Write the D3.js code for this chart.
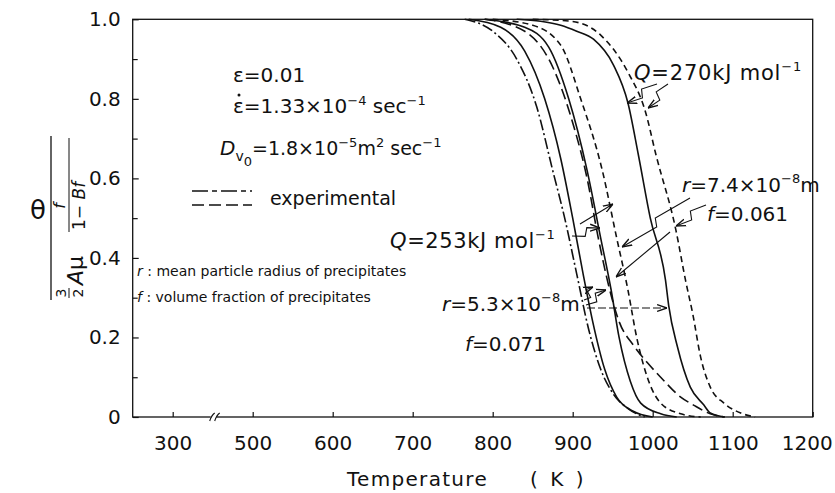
<!DOCTYPE html>
<html><head><meta charset="utf-8">
<script src="https://cdn.jsdelivr.net/npm/d3@7"></script>
<style>
body{margin:0;background:#fff;}
svg{display:block;}
text{font-family:"DejaVu Sans",Arial,sans-serif;fill:#111;}
</style>
</head><body>
<svg id="chart" width="835" height="493"></svg>
<script>
// ---------- data ----------
const xTickValues = [300, 500, 600, 700, 800, 900, 1000, 1100, 1200];
const yMajorTicks = [0, 0.2, 0.4, 0.6, 0.8, 1.0];
const yMinorTicks = [0.1, 0.3, 0.5, 0.7, 0.9];

// experimental (dash-dot)
const expDashDotT = [765, 800, 830, 855, 875, 890, 905, 920, 935, 950, 970, 990];
const expDashDotV = [1.0, 0.97, 0.9, 0.78, 0.62, 0.5, 0.36, 0.22, 0.12, 0.06, 0.02, 0.0];
// experimental (long dash)
const expLongDashT = [790, 840, 875, 900, 918, 932, 945, 958, 976, 994, 1010, 1035, 1051, 1072, 1090];
const expLongDashV = [1.0, 0.97, 0.88, 0.74, 0.6, 0.45, 0.33, 0.24, 0.18, 0.135, 0.1, 0.05, 0.03, 0.008, 0.0];
// calculated, solid, left
const calcSolidAT = [770, 810, 840, 865, 885, 900, 913, 925, 940, 955, 975, 1000];
const calcSolidAV = [1.0, 0.98, 0.92, 0.8, 0.65, 0.5, 0.36, 0.24, 0.12, 0.05, 0.015, 0.0];
// calculated, solid, Q=253
const calcSolidBT = [790, 840, 870, 895, 918, 935, 948, 958, 972, 985, 1010, 1030];
const calcSolidBV = [1.0, 0.98, 0.93, 0.8, 0.62, 0.45, 0.32, 0.2, 0.09, 0.035, 0.008, 0.0];
// calculated, dashed, Q=253
const calcDashBT = [800, 850, 885, 910, 937, 955, 969, 980, 995, 1010, 1035, 1060];
const calcDashBV = [1.0, 0.985, 0.935, 0.8, 0.62, 0.45, 0.32, 0.2, 0.09, 0.035, 0.008, 0.0];
// calculated, solid, Q=270
const calcSolidCT = [830, 860, 885, 905, 926, 951, 969, 982, 997, 1016, 1020, 1031, 1047, 1064, 1072, 1090];
const calcSolidCV = [1.0, 0.995, 0.985, 0.97, 0.95, 0.885, 0.79, 0.66, 0.5, 0.344, 0.28, 0.176, 0.075, 0.03, 0.01, 0.0];
// calculated, dashed, Q=270
const calcDashCT = [850, 898, 935, 969, 991, 1004, 1029, 1041, 1050, 1060, 1072, 1089, 1110, 1128];
const calcDashCV = [1.0, 0.995, 0.96, 0.867, 0.767, 0.66, 0.47, 0.344, 0.26, 0.15, 0.075, 0.035, 0.01, 0.0];

const zip = (t, v) => t.map((d, i) => [d, v[i]]);
const series = [
  {pts: zip(expDashDotT, expDashDotV), dash: "11,3,2,3"},
  {pts: zip(expLongDashT, expLongDashV), dash: "11,5"},
  {pts: zip(calcSolidAT, calcSolidAV), dash: null},
  {pts: zip(calcSolidBT, calcSolidBV), dash: null},
  {pts: zip(calcDashBT, calcDashBV), dash: "6,4"},
  {pts: zip(calcSolidCT, calcSolidCV), dash: null},
  {pts: zip(calcDashCT, calcDashCV), dash: "6,4"}
];

// ---------- scales ----------
const svg = d3.select("#chart");
const x = d3.scaleLinear().domain([250, 300, 500, 1200]).range([132.7, 172.7, 252.7, 812.7]);
const y = d3.scaleLinear().domain([0, 1]).range([417, 19.3]);

const defs = svg.append("defs");
defs.append("marker").attr("id", "arr").attr("viewBox", "0 0 10 10").attr("refX", 10).attr("refY", 5)
  .attr("markerWidth", 9).attr("markerHeight", 9).attr("orient", "auto-start-reverse")
  .append("path").attr("d", "M0,1.5 L10,5 L0,8.5").attr("fill", "none").attr("stroke", "#111").attr("stroke-width", 1.4);

// frame
svg.append("rect").attr("x", x(250)).attr("y", y(1)).attr("width", x(1200) - x(250)).attr("height", y(0) - y(1))
  .attr("fill", "none").attr("stroke", "#111").attr("stroke-width", 1.3);

// x axis
const xAxis = d3.axisBottom(x).tickValues(xTickValues).tickSize(-5).tickPadding(19).tickFormat(d3.format("d"));
const gx = svg.append("g").attr("transform", `translate(0,${y(0)})`).call(xAxis);
gx.select(".domain").remove();
gx.selectAll("text").attr("font-size", 20).attr("font-family", "DejaVu Sans, Arial, sans-serif")
  .attr("dx", d => d === 1200 ? -6 : 0);
gx.selectAll("line").attr("stroke", "#111").attr("stroke-width", 1.2);

// axis break marks
const bx = x(300) + 41;
svg.append("rect").attr("x", bx - 3).attr("y", y(0) - 1.5).attr("width", 6).attr("height", 3).attr("fill", "#fff");
svg.append("path").attr("d", `M${bx-4},${y(0)+4} q2,-6 5,-8 M${bx+1},${y(0)+4} q2,-6 5,-8`)
  .attr("fill", "none").attr("stroke", "#111").attr("stroke-width", 1.1);

// y axis
const yAxis = d3.axisLeft(y).tickValues(yMajorTicks).tickSize(-6).tickPadding(12)
  .tickFormat(d => d === 0 ? "0" : d.toFixed(1));
const gy = svg.append("g").attr("transform", `translate(${x(250)},0)`).call(yAxis);
gy.select(".domain").remove();
gy.selectAll("text").attr("font-size", 20).attr("font-family", "DejaVu Sans, Arial, sans-serif");
gy.selectAll("line").attr("stroke", "#111").attr("stroke-width", 1.2);
const gy2 = svg.append("g").attr("transform", `translate(${x(250)},0)`)
  .call(d3.axisLeft(y).tickValues(yMinorTicks).tickSize(-5).tickFormat(""));
gy2.select(".domain").remove();
gy2.selectAll("line").attr("stroke", "#111").attr("stroke-width", 1.2);

// curves
const line = d3.line().x(d => x(d[0])).y(d => y(d[1])).curve(d3.curveMonotoneX);
svg.append("g").selectAll("path").data(series).join("path")
  .attr("d", d => line(d.pts)).attr("fill", "none").attr("stroke", "#111")
  .attr("stroke-width", 1.6).attr("stroke-dasharray", d => d.dash);

// x title
svg.append("text").attr("x", 347).attr("y", 486).attr("font-size", 20).attr("letter-spacing", 1.3)
  .text("Temperature");
svg.append("text").attr("x", 530).attr("y", 486).attr("font-size", 20).attr("letter-spacing", 3)
  .text("( K )");

// y title (fraction)
svg.append("text").attr("x", 38).attr("y", 219).attr("text-anchor", "middle").attr("font-size", 26).text("θ");
const yt = svg.append("g").attr("transform", "translate(51,218) rotate(-90)");
yt.append("line").attr("x1", -82).attr("x2", 82).attr("y1", 0).attr("y2", 0).attr("stroke", "#111").attr("stroke-width", 1.3);
yt.append("text").attr("x", -75).attr("y", 15).attr("text-anchor", "middle").attr("font-size", 14).text("3");
yt.append("line").attr("x1", -80).attr("x2", -70).attr("y1", 18).attr("y2", 18).attr("stroke", "#111").attr("stroke-width", 1);
yt.append("text").attr("x", -75).attr("y", 32).attr("text-anchor", "middle").attr("font-size", 14).text("2");
const am = yt.append("text").attr("x", -67).attr("y", 32).attr("font-size", 22);
am.append("tspan").attr("font-style", "italic").text("A");
am.append("tspan").text("μ");
yt.append("text").attr("x", 12).attr("y", 14).attr("text-anchor", "middle").attr("font-size", 16).attr("font-style", "italic").text("f");
yt.append("line").attr("x1", -14).attr("x2", 80).attr("y1", 18).attr("y2", 18).attr("stroke", "#111").attr("stroke-width", 1);
const bf = yt.append("text").attr("x", -12).attr("y", 34).attr("font-size", 17);
bf.append("tspan").text("1− ");
bf.append("tspan").attr("font-style", "italic").text("Bf");

// ---------- annotations ----------
const ann = svg.append("g");
function rich(t, parts) {
  parts.forEach(p => {
    const ts = t.append("tspan").text(p.s);
    if (p.it) ts.attr("font-style", "italic");
    if (p.dy) ts.attr("dy", p.dy);
    if (p.fs) ts.attr("font-size", p.fs);
  });
}
let t;
t = ann.append("text").attr("x", 233).attr("y", 82).attr("font-size", 20);
rich(t, [{s: "ε=0.01"}]);
t = ann.append("text").attr("x", 233).attr("y", 113).attr("font-size", 20);
rich(t, [{s: "ε=1.33×10"}, {s: "−4", dy: -8, fs: 13}, {s: " sec", dy: 8}, {s: "−1", dy: -8, fs: 13}]);
ann.append("circle").attr("cx", 239).attr("cy", 95).attr("r", 1.5).attr("fill", "#111");
t = ann.append("text").attr("x", 220).attr("y", 155).attr("font-size", 20);
rich(t, [{s: "D", it: true}, {s: "v", dy: 6, fs: 14}, {s: "0", dy: 5, fs: 13}, {s: "=1.8×10", dy: -11, fs: 19},
        {s: "−5", dy: -8, fs: 13}, {s: "m", dy: 8, fs: 19}, {s: "2", dy: -8, fs: 13}, {s: " sec", dy: 8, fs: 19}, {s: "−1", dy: -8, fs: 13}]);

// legend
ann.append("line").attr("x1", 192).attr("x2", 252).attr("y1", 191).attr("y2", 191)
  .attr("stroke", "#111").attr("stroke-width", 1.6).attr("stroke-dasharray", "16,4,5,4");
ann.append("line").attr("x1", 192).attr("x2", 252).attr("y1", 205).attr("y2", 205)
  .attr("stroke", "#111").attr("stroke-width", 1.6).attr("stroke-dasharray", "12,5");
ann.append("text").attr("x", 270).attr("y", 205).attr("font-size", 19).text("experimental");

t = ann.append("text").attr("x", 390).attr("y", 248).attr("font-size", 21).attr("letter-spacing", 0.6);
rich(t, [{s: "Q", it: true}, {s: "=253kJ  mol"}, {s: "−1", dy: -9, fs: 13}]);

t = ann.append("text").attr("x", 137).attr("y", 276).attr("font-size", 14);
rich(t, [{s: "r", it: true}, {s: " : mean particle radius of precipitates"}]);
t = ann.append("text").attr("x", 137).attr("y", 302).attr("font-size", 14);
rich(t, [{s: "f", it: true}, {s: " : volume  fraction of precipitates"}]);

t = ann.append("text").attr("x", 442).attr("y", 311).attr("font-size", 20);
rich(t, [{s: "r", it: true}, {s: "=5.3×10"}, {s: "−8", dy: -9, fs: 13}, {s: "m", dy: 9}]);
t = ann.append("text").attr("x", 465).attr("y", 351).attr("font-size", 20);
rich(t, [{s: "f", it: true}, {s: "=0.071"}]);

t = ann.append("text").attr("x", 634).attr("y", 80).attr("font-size", 21).attr("letter-spacing", 0.8);
rich(t, [{s: "Q", it: true}, {s: "=270kJ  mol"}, {s: "−1", dy: -9, fs: 13}]);
t = ann.append("text").attr("x", 682).attr("y", 192).attr("font-size", 20);
rich(t, [{s: "r", it: true}, {s: "=7.4×10"}, {s: "−8", dy: -9, fs: 13}, {s: "m", dy: 9}]);
t = ann.append("text").attr("x", 707).attr("y", 221).attr("font-size", 20);
rich(t, [{s: "f", it: true}, {s: "=0.061"}]);

function zig(p0, p1) {
  const mx = (p0[0] + p1[0]) / 2, my = (p0[1] + p1[1]) / 2;
  const dx = p1[0] - p0[0], dy = p1[1] - p0[1], L = Math.hypot(dx, dy);
  const ux = dx / L, uy = dy / L, nx = -uy, ny = ux;
  const pts = [p0, [mx + nx * 4 - ux * 2, my + ny * 4 - uy * 2], [mx - nx * 4 + ux * 2, my - ny * 4 + uy * 2], p1];
  ann.append("path").attr("d", d3.line()(pts)).attr("fill", "none").attr("stroke", "#111")
    .attr("stroke-width", 1.1).attr("marker-end", "url(#arr)");
}
function straight(p0, p1, dashed) {
  ann.append("path").attr("d", d3.line()([p0, p1])).attr("fill", "none").attr("stroke", "#111")
    .attr("stroke-width", 1.1).attr("stroke-dasharray", dashed ? "8,3" : null).attr("marker-end", "url(#arr)");
}
zig([657, 84], [627, 103]);
zig([668, 84], [648, 108]);
zig([690, 198], [622, 247]);
zig([706, 205], [676, 226]);
straight([670, 232], [616, 277]);
zig([572, 236], [600, 228]);
straight([580, 224], [613, 204]);
zig([584, 300], [593, 287]);
zig([586, 305], [606, 290]);
straight([587, 308], [667, 308], true);
</script>
</body></html>
